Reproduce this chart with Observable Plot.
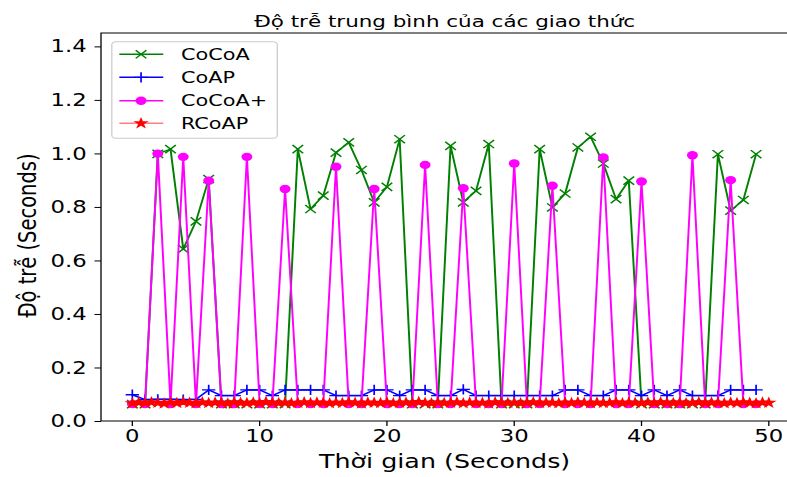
<!DOCTYPE html>
<html><head><meta charset="utf-8">
<script src="https://cdn.jsdelivr.net/npm/d3@7"></script>
<script src="https://cdn.jsdelivr.net/npm/@observablehq/plot@0.6"></script>
<style>
html,body{margin:0;padding:0;background:#fff;overflow:hidden}
#chart svg{display:block}
</style>
</head><body><div id="chart"></div>
<script>
const title = "Độ trễ trung bình của các giao thức";
const xLabel = "Thời gian (Seconds)";
const yLabel = "Độ trễ (Seconds)";
const seriesNames = ["CoCoA", "CoAP", "CoCoA+", "RCoAP"];
const seriesColors = ["green", "blue", "#ff00ff", "red"];
const seriesSymbols = ["times", "plus", "circle", "star"];
const xTicks = [0, 10, 20, 30, 40, 50];
const yTicks = [0, 0.2, 0.4, 0.6, 0.8, 1.0, 1.2, 1.4];

const time = [0,1,2,3,4,5,6,7,8,9,10,11,12,13,14,15,16,17,18,19,20,21,22,23,24,25,26,27,28,29,30,31,32,33,34,35,36,37,38,39,40,41,42,43,44,45,46,47,48,49];
const cocoa = [0.065,0.065,1.0,1.018,0.645,0.748,0.906,0.065,0.065,0.065,
  0.065,0.065,0.065,1.018,0.794,0.844,1.005,1.043,0.94,0.819,
  0.877,1.055,0.065,0.065,0.065,1.03,0.819,0.862,1.037,0.065,
  0.065,0.065,1.018,0.80,0.852,1.024,1.064,0.964,0.831,0.90,
  0.065,0.065,0.065,0.065,0.065,0.065,0.999,0.788,0.828,0.999];
const coap = [0.10,0.082,0.083,0.083,0.082,0.083,0.118,0.097,0.097,0.118,
  0.118,0.097,0.118,0.118,0.118,0.118,0.097,0.097,0.097,0.118,
  0.118,0.097,0.118,0.118,0.097,0.097,0.12,0.097,0.097,0.097,
  0.097,0.097,0.097,0.097,0.118,0.118,0.097,0.097,0.118,0.118,
  0.097,0.118,0.097,0.118,0.097,0.097,0.097,0.118,0.118,0.118];
const cocoaPlus = [0.065,0.065,1.001,0.065,0.989,0.065,0.90,0.065,0.065,0.989,
  0.065,0.065,0.869,0.065,0.065,0.065,0.952,0.065,0.065,0.869,
  0.065,0.065,0.065,0.959,0.065,0.065,0.872,0.065,0.065,0.065,
  0.964,0.065,0.065,0.881,0.065,0.065,0.065,0.987,0.065,0.065,
  0.897,0.065,0.065,0.065,0.995,0.065,0.065,0.902,0.065,0.065];
const rcoap = [0.068,0.071,0.069,0.072,0.070,0.067,0.071,0.069,0.073,0.070,
  0.068,0.072,0.069,0.071,0.070,0.067,0.072,0.070,0.069,0.071,
  0.068,0.073,0.070,0.069,0.071,0.068,0.070,0.072,0.069,0.071,
  0.070,0.068,0.071,0.069,0.072,0.070,0.067,0.071,0.070,0.069,
  0.072,0.068,0.070,0.071,0.069,0.073,0.070,0.068,0.071,0.069,
  0.070,0.072,0.068,0.071,0.069,0.070,0.067,0.072,0.070,0.069,
  0.071,0.068,0.070,0.072,0.069,0.071,0.070,0.068,0.071,0.069,
  0.072,0.070,0.068,0.071,0.069,0.070,0.072,0.068,0.071,0.070,
  0.069,0.071,0.068,0.072,0.070,0.069,0.071,0.068,0.070,0.072,
  0.069,0.071,0.070,0.068,0.071,0.069,0.072,0.070,0.068,0.071,
  0.070];
const rcoapTime = rcoap.map((_, i) => i / 2);

// layout (the reference is horizontally stretched; draw narrow, then stretch)
const S = 1.3, W = 787, H = 477, W0 = W / S;
const FONT = "DejaVu Sans";

const tables = [
  time.map((t, i) => ({t, v: cocoa[i]})),
  time.map((t, i) => ({t, v: coap[i]})),
  time.map((t, i) => ({t, v: cocoaPlus[i]})),
  rcoapTime.map((t, i) => ({t, v: rcoap[i]}))
];
const markerR = [3.8, 3.4, 4.2, 3.8];

const seriesMarks = tables.flatMap((data, k) => [
  Plot.line(data, {x: "t", y: "v", stroke: seriesColors[k], strokeWidth: 1.5, strokeOpacity: k === 3 ? 0.5 : 1}),
  Plot.dot(data, k === 2 || k === 3
    ? {x: "t", y: "v", symbol: seriesSymbols[k], r: markerR[k], fill: seriesColors[k], stroke: "none"}
    : {x: "t", y: "v", symbol: seriesSymbols[k], r: markerR[k], stroke: seriesColors[k], strokeWidth: 1.3, fill: "none"})
]);

const plot = Plot.plot({
  width: W0, height: H,
  marginLeft: 101 / S, marginRight: 0, marginTop: 33, marginBottom: 56,
  x: {domain: [-2.41, 51.48]},
  y: {domain: [0, 1.45]},
  style: {fontFamily: FONT, fontSize: "18px", color: "black", background: "white"},
  marks: [
    Plot.axisX({ticks: xTicks, tickSize: 5, tickPadding: 3, label: null, fontSize: 17.5}),
    Plot.axisY({ticks: yTicks, tickSize: 5, tickPadding: 6.5, tickFormat: d3.format(".1f"), label: null, fontSize: 17.5}),
    ...seriesMarks,
    Plot.text([title], {text: d => d, frameAnchor: "top", dy: -18, fontSize: 16.5}),
    Plot.text([xLabel], {text: d => d, frameAnchor: "bottom", dy: 46, fontSize: 19.5}),
    Plot.text([yLabel], {text: d => d, frameAnchor: "left", textAnchor: "middle", rotate: -90, dx: -57, dy: 8, fontSize: 19.5})
  ]
});

const svg = d3.select(plot);
const xr = plot.scale("x").range, yr = plot.scale("y").range;
// spines
svg.append("path")
  .attr("d", `M${W0},${yr[1]}H${xr[0]}V${yr[0]}H${W0}`)
  .attr("fill", "none").attr("stroke", "black").attr("stroke-width", 1);

// legend
const lg = svg.append("g").attr("font-family", FONT).attr("font-size", 16).attr("text-anchor", "start");
lg.append("rect").attr("x", 86).attr("y", 41.7).attr("width", 127.3).attr("height", 96.6)
  .attr("rx", 3).attr("fill", "white").attr("fill-opacity", 0.8).attr("stroke", "#cccccc");
const rowY = [54.3, 77.3, 100.7, 123.3];
const d3Sym = {times: d3.symbolTimes, plus: d3.symbolPlus, circle: d3.symbolCircle, star: d3.symbolStar};
seriesNames.forEach((name, k) => {
  const y = rowY[k];
  lg.append("line").attr("x1", 91.8).attr("x2", 125.6).attr("y1", y).attr("y2", y)
    .attr("stroke", seriesColors[k]).attr("stroke-width", 1.5).attr("stroke-opacity", k === 3 ? 0.5 : 1);
  const p = d3.symbol(d3Sym[seriesSymbols[k]], Math.PI * markerR[k] * markerR[k])();
  const m = lg.append("path").attr("d", p).attr("transform", `translate(108.5,${y})`);
  if (k >= 2) m.attr("fill", seriesColors[k]);
  else m.attr("fill", "none").attr("stroke", seriesColors[k]).attr("stroke-width", 1.3);
  lg.append("text").attr("x", 139.2).attr("y", y).attr("dy", "0.35em").attr("fill", "black").text(name);
});

// stretch to the reference's aspect
plot.setAttribute("width", W);
plot.setAttribute("height", H);
plot.setAttribute("preserveAspectRatio", "none");
plot.style.width = W + "px";
plot.style.height = H + "px";
plot.style.maxWidth = "none";
document.getElementById("chart").appendChild(plot);
</script>
</body></html>
